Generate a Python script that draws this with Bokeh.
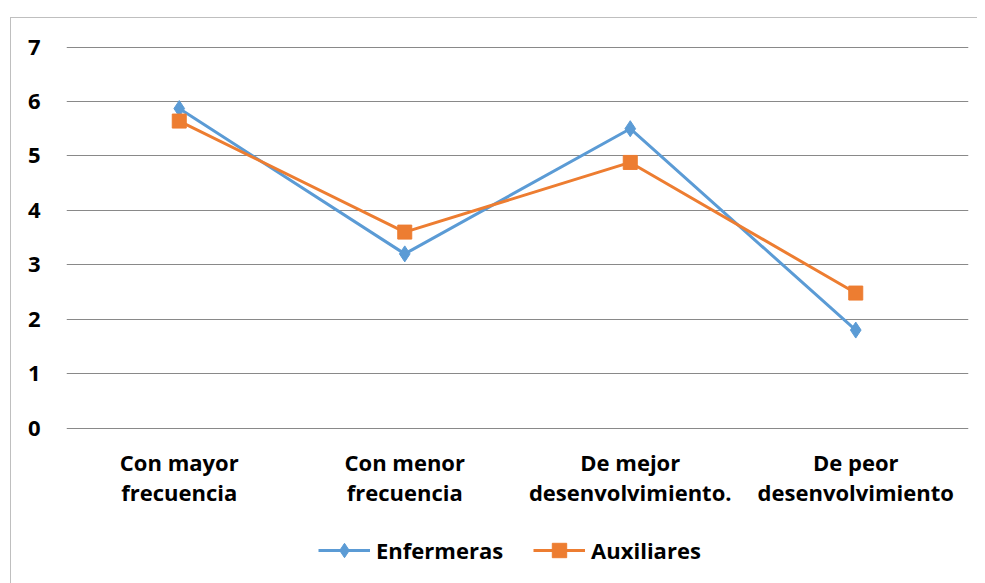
from bokeh.plotting import figure
from bokeh.models import Legend, LegendItem, FactorRange, FixedTicker, Range1d
from bokeh.embed import file_html
from bokeh.resources import INLINE

categories = ["Con mayor\nfrecuencia", "Con menor\nfrecuencia",
              "De mejor\ndesenvolvimiento.", "De peor\ndesenvolvimiento"]
enfermeras = [5.87, 3.2, 5.5, 1.8]
auxiliares = [5.64, 3.6, 4.88, 2.48]
y_ticks = [0, 1, 2, 3, 4, 5, 6, 7]

FONT = "Open Sans"
BLUE = "#5B9BD5"
ORANGE = "#ED7D31"

# y range extends below 0 to leave room (inside the frame) for labels and legend
p = figure(x_range=FactorRange(*categories), y_range=Range1d(-2.856, 7.01),
           frame_width=902, frame_height=537,
           output_backend="svg", toolbar_location=None,
           min_border_left=55, min_border_top=28, min_border_right=9,
           min_border_bottom=0)
p.margin = (17, 0, 0, 10)
p.styles = {"border-left": "1px solid #BFBFBF", "border-top": "1px solid #BFBFBF"}
p.outline_line_color = None
p.background_fill_color = "white"
p.border_fill_color = "white"

p.xgrid.grid_line_color = None
p.ygrid.grid_line_color = "#898989"
p.ygrid.grid_line_width = 1
p.ygrid.ticker = FixedTicker(ticks=y_ticks)

p.yaxis.ticker = FixedTicker(ticks=y_ticks)
p.xaxis.fixed_location = 0
for ax in (p.xaxis[0], p.yaxis[0]):
    ax.axis_line_color = None
    ax.major_tick_line_color = None
    ax.minor_tick_line_color = None
    ax.major_tick_out = 0
    ax.major_tick_in = 0
    ax.major_label_text_font = FONT
    ax.major_label_text_font_style = "bold"
    ax.major_label_text_font_size = "22px"
    ax.major_label_text_color = "black"
    ax.major_label_text_line_height = 1.0
p.yaxis.major_label_standoff = 26
p.xaxis.major_label_standoff = 19

r1l = p.line(categories, enfermeras, line_color=BLUE, line_width=3)
r1m = p.scatter(categories, enfermeras, marker="diamond",
                size=16, fill_color=BLUE, line_color=BLUE)
r2l = p.line(categories, auxiliares, line_color=ORANGE, line_width=3)
r2m = p.scatter(categories, auxiliares, marker="square", size=14,
                fill_color=ORANGE, line_color=ORANGE)

legend = Legend(items=[LegendItem(label="Enfermeras", renderers=[r1l, r1m]),
                       LegendItem(label="Auxiliares", renderers=[r2l, r2m])],
                orientation="horizontal", location=(252, 15))
legend.label_text_font = FONT
legend.label_text_font_style = "bold"
legend.label_text_font_size = "22px"
legend.label_text_color = "black"
legend.glyph_width = 52
legend.glyph_height = 36
legend.label_standoff = 6
legend.spacing = 30
legend.padding = 0
legend.margin = 0
legend.border_line_color = None
legend.background_fill_alpha = 0
p.add_layout(legend)

open("out.html", "w").write(file_html(p, INLINE))
